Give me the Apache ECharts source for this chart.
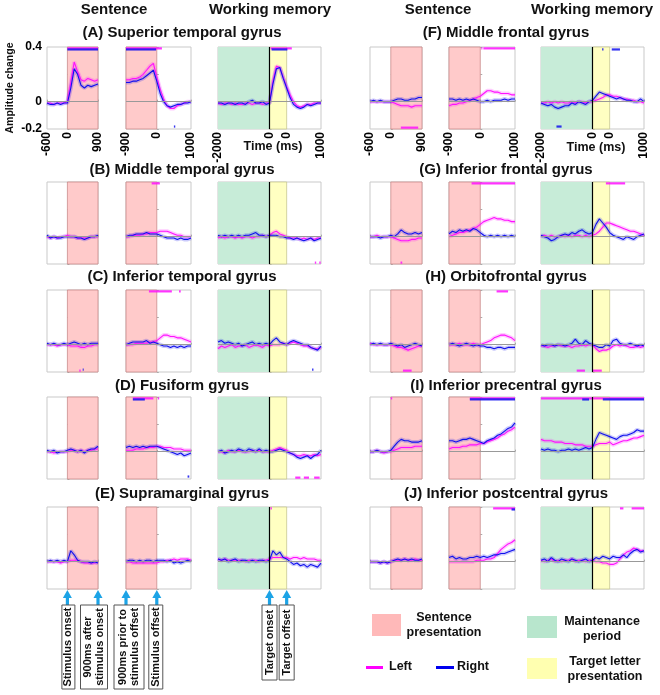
<!DOCTYPE html>
<html><head><meta charset="utf-8">
<script src="https://cdn.jsdelivr.net/npm/echarts@6/dist/echarts.min.js"></script>
<style>html,body{margin:0;padding:0;background:#fff}#c{width:660px;height:695px}</style>
</head><body><div id="c"></div>
<script>
// ---------- time bases (ms) ----------
const tOnset  = [-600,-500,-400,-300,-200,-100,0,100,200,300,400,500,600,700,800,900];
const tOffset = [-900,-800,-700,-600,-500,-400,-300,-200,-100,0,100,200,300,400,500,600,700,800,900,1000];
// working-memory display time: maintenance | target | post-offset
const tWM = [-1500,-1400,-1300,-1200,-1100,-1000,-900,-800,-700,-600,-500,-400,-300,-200,-100,0,100,200,300,400,500,600,700,800,900,1000,1100,1200,1300,1400,1500];

// ---------- tick labels ----------
const onsetTicks = [-600,0,900];       const onsetTickLabels = ['-600','0','900'];
const offsetTicks = [-900,0,1000];     const offsetTickLabels = ['-900','0','1000'];
const wmTicks = [-1500,0,500,1500];    const wmTickLabels = ['-2000','0','0','1000'];
const yTicks = [-0.2,0,0.4];           const yTickLabels = ['-0.2','0','0.4'];

const regionTitles = ['(A) Superior temporal gyrus','(B) Middle temporal gyrus','(C) Inferior temporal gyrus','(D) Fusiform gyrus','(E) Supramarginal gyrus',
  '(F) Middle frontal gyrus','(G) Inferior frontal gyrus','(H) Orbitofrontal gyrus','(I) Inferior precentral gyrus','(J) Inferior postcentral gyrus'];

// ---------- amplitude change (x 0.01) ----------
const A1L=[-1,-1,-2,-1,-1,-1,0,14,29,22,16,15,17,16,15,16];
const A1R=[-1,-2,-2,-1,-2,-1,-1,10,24,20,12,10,12,11,12,13];
const A2L=[16,16,17,17,18,20,23,26,28,18,9,2,-3,-5,-5,-3,-2,-1,0,0];
const A2R=[14,14,15,15,16,17,19,21,23,15,6,0,-3,-4,-3,-2,-2,-1,-1,0];
const A3L=[-1,-2,-1,-1,-2,-1,-2,-2,-1,-1,-2,-1,-1,-2,-1,-1,15,26,25,18,11,5,0,-3,-4,-3,-2,-2,-1,-1,-1];
const A3R=[-1,-1,-2,-1,-1,-2,-1,-1,-2,0,1,-1,-1,0,-2,-1,13,24,25,17,10,3,-2,-4,-5,-4,-2,-3,-2,-1,-1];

const B1L=[0,-1,0,-1,0,0,1,0,0,-1,-1,-1,-1,0,0,0];
const B1R=[1,-1,0,-1,-1,0,0,0,0,-1,-1,-2,-1,0,0,1];
const B2L=[0,0,1,1,1,2,2,3,3,3,4,4,4,3,2,1,1,0,0,0];
const B2R=[0,1,1,2,2,2,3,2,2,2,1,0,-1,-1,-1,-2,-1,-2,-2,-1];
const B3L=[-1,0,-1,0,0,-1,0,-1,0,0,-1,0,0,1,0,1,3,4,2,1,0,-1,-1,-1,-2,-1,-2,-1,-2,-1,-1];
const B3R=[1,0,1,0,1,0,1,0,1,1,2,3,1,1,0,1,1,1,0,0,-1,-1,-2,-1,-2,-3,-2,-1,-3,-2,-1];

const C1L=[0,0,0,-1,0,0,0,-1,-1,-1,-2,-2,-1,-1,0,0];
const C1R=[1,0,1,0,0,1,0,1,2,1,0,1,0,1,1,1];
const C2L=[0,0,0,1,1,1,1,2,2,3,5,7,7,6,6,5,5,4,3,2];
const C2R=[0,1,2,2,2,2,3,1,2,1,0,-1,-1,-2,-1,-2,-1,-2,-1,-1];
const C3L=[-3,-1,-2,-1,0,-2,-1,-1,0,-2,-1,0,-1,-2,0,-1,0,0,0,1,0,1,2,1,0,-1,-1,-2,-3,-3,-2];
const C3R=[2,3,1,2,1,0,1,-1,0,1,2,0,1,0,1,0,3,5,2,1,0,2,3,2,1,0,0,-2,-3,-4,-1];

const D1L=[0,0,-1,0,0,0,0,1,1,0,1,0,1,1,2,2];
const D1R=[1,0,1,-1,0,0,1,2,1,0,1,-1,1,2,2,4];
const D2L=[1,1,1,2,2,2,3,3,3,4,4,3,3,3,2,2,2,1,1,1];
const D2R=[3,4,3,4,3,4,3,4,4,4,3,2,1,0,-1,-2,-1,-3,-2,-1];
const D3L=[0,0,-1,1,0,0,1,0,0,0,1,0,1,0,0,0,1,2,3,2,1,-1,-2,-3,-3,-2,-3,-3,-2,-3,-2];
const D3R=[0,1,-1,0,1,0,2,1,0,2,1,0,2,0,1,0,0,1,2,1,0,-1,-2,-4,-5,-4,-3,-5,-3,-2,1];

const E1L=[0,0,0,0,-1,0,0,1,1,1,0,-1,-1,-1,-1,0];
const E1R=[0,1,0,1,0,1,0,8,5,1,0,0,0,-1,0,-1];
const E2L=[0,0,-1,-1,-1,-1,-1,-1,-1,-1,0,0,1,1,2,1,2,2,2,1];
const E2R=[0,1,1,0,1,0,1,1,0,1,1,1,0,1,-1,0,-1,0,1,0];
const E3L=[2,1,2,1,1,1,1,1,0,1,1,1,0,1,1,2,3,3,3,3,3,2,3,3,2,3,2,2,2,1,1];
const E3R=[2,1,2,0,1,2,0,1,1,0,1,0,1,1,0,1,8,5,7,3,2,0,-2,-1,-3,-2,-4,-2,-3,-4,-1];

const F1L=[0,0,0,0,0,0,0,-1,-2,-3,-3,-3,-4,-3,-3,-3];
const F1R=[0,1,0,1,0,0,0,1,2,2,1,1,2,2,3,3];
const F2L=[-3,-2,-2,-1,-1,0,1,2,3,4,6,8,8,7,7,6,6,6,5,5];
const F2R=[2,2,1,2,1,2,1,2,1,0,0,1,0,1,1,1,2,1,2,2];
const F3L=[-1,-1,0,-1,0,-1,0,-1,-1,0,-1,0,0,-1,0,0,1,2,3,5,5,4,4,3,2,2,1,1,0,0,-1];
const F3R=[-1,-2,-3,-2,-4,-5,-4,-3,-3,-1,-2,0,-1,-2,0,1,4,7,6,5,4,3,2,3,2,1,1,0,0,2,0];

const G1L=[0,0,1,0,0,0,0,-1,-2,-3,-3,-3,-2,-2,-1,-1];
const G1R=[0,0,0,-1,0,0,1,0,2,5,3,2,2,3,2,3];
const G2L=[0,1,2,3,3,4,5,6,7,9,11,12,13,14,13,13,12,12,11,11];
const G2R=[2,4,3,5,4,5,4,6,5,3,1,0,1,0,1,0,1,0,1,0];
const G3L=[0,1,0,1,0,0,1,0,1,0,1,1,0,1,0,1,2,4,7,10,10,9,8,7,6,5,4,4,3,2,1];
const G3R=[1,0,-1,-3,-2,0,1,2,1,3,2,4,5,3,2,3,9,13,10,7,3,1,0,-1,-2,0,-1,-2,0,1,2];

const H1L=[1,0,0,0,0,0,0,-1,-2,-2,-3,-4,-3,-2,-1,-1];
const H1R=[0,1,0,1,0,0,1,0,-1,0,-2,-1,0,1,0,-1];
const H2L=[0,0,0,1,0,0,0,1,0,0,1,2,3,5,6,7,7,6,5,3];
const H2R=[0,1,0,-1,0,1,0,-1,0,-1,-1,-2,-2,-3,-2,-2,-3,-2,-2,-2];
const H3L=[-1,-1,-2,-1,-1,0,-1,-1,-1,-2,-1,-1,0,-1,0,0,-3,-5,-4,-4,-3,-1,0,-1,0,-1,-2,-2,-1,-2,-1];
const H3R=[0,-1,0,0,-1,0,0,-1,0,1,4,1,0,3,1,0,-1,-2,-2,0,-1,3,4,1,0,0,1,0,-1,0,-1];

const I1L=[0,0,1,0,-1,0,0,1,2,3,3,3,3,4,4,4];
const I1R=[0,0,1,0,0,0,1,4,7,9,8,8,7,7,7,8];
const I2L=[2,3,3,3,4,4,5,5,5,6,6,7,8,9,10,12,13,15,16,18];
const I2R=[8,8,7,8,9,9,10,9,8,7,6,8,9,10,12,13,15,17,18,21];
const I3L=[9,8,8,8,7,7,7,6,6,6,5,5,5,4,4,4,5,6,6,6,7,5,6,7,8,8,9,10,10,11,12];
const I3R=[2,1,2,1,1,0,1,1,2,1,2,1,2,3,2,3,9,14,13,12,11,10,9,11,12,12,13,14,16,15,15];

const J1L=[0,0,0,-1,0,-1,0,1,1,1,2,1,1,2,1,1];
const J1R=[0,0,0,-1,0,-1,0,1,2,1,2,1,2,1,1,2];
const J2L=[0,0,0,0,0,0,0,0,1,1,1,2,2,3,6,9,11,13,14,16];
const J2R=[3,4,2,3,2,2,3,3,4,3,4,3,4,5,5,6,6,7,8,9];
const J3L=[1,0,1,2,0,1,0,1,1,2,0,1,1,0,1,1,0,0,-1,-1,-2,-2,-1,2,5,7,8,10,9,8,8];
const J3R=[1,2,0,3,1,0,2,1,0,2,1,0,1,2,0,1,3,2,4,3,2,4,3,3,5,3,6,8,9,7,8];

// ---------- significance intervals [hemisphere, start, end, edge] ----------
const sigA1=[['L',0,900,'t'],['R',0,900,'t']];
const sigA2=[['L',-900,150,'t'],['R',-900,-20,'t'],['R',500,540,'b']];
const sigA3=[['L',30,650,'t'],['R',60,520,'t']];
const sigB1=[]; const sigB2=[['L',-150,90,'t']]; const sigB3=[['L',1320,1360,'b'],['L',1450,1490,'b']];
const sigC1=[['L',350,390,'b'],['R',450,480,'b']]; const sigC2=[['L',-230,440,'t'],['L',650,700,'t']]; const sigC3=[['R',1240,1280,'b']];
const sigD1=[]; const sigD2=[['L',-700,-100,'t'],['R',-700,-350,'t'],['L',30,70,'t'],['R',900,950,'b']]; const sigD3=[['L',750,900,'b'],['L',1000,1150,'b'],['L',1300,1460,'b']];
const sigE1=[]; const sigE2=[]; const sigE3=[['L',30,70,'t']];
const sigF1=[['L',290,790,'b']]; const sigF2=[['L',30,60,'t'],['L',90,1000,'t']]; const sigF3=[['R',280,320,'t'],['R',560,800,'t'],['R',-1050,-900,'b']];
const sigG1=[['L',280,330,'b']]; const sigG2=[['L',-250,1000,'t']]; const sigG3=[['L',390,950,'t']];
const sigH1=[['L',350,600,'b']]; const sigH2=[['L',470,800,'t']]; const sigH3=[['L',-460,-220,'b'],['L',0,270,'b']];
const sigI1=[['L',0,40,'t']]; const sigI2=[['L',-300,1000,'t'],['R',-300,1000,'t']]; const sigI3=[['L',-1500,1500,'t'],['R',-300,-100,'t'],['R',300,1500,'t']];
const sigJ1=[]; const sigJ2=[['L',370,1000,'t'],['R',900,1000,'t']]; const sigJ3=[['L',800,900,'t'],['L',1140,1500,'t']];

// ---------- assemble ----------
const panelData = [
  [[A1L,A1R],[A2L,A2R],[A3L,A3R]],[[B1L,B1R],[B2L,B2R],[B3L,B3R]],[[C1L,C1R],[C2L,C2R],[C3L,C3R]],
  [[D1L,D1R],[D2L,D2R],[D3L,D3R]],[[E1L,E1R],[E2L,E2R],[E3L,E3R]],[[F1L,F1R],[F2L,F2R],[F3L,F3R]],
  [[G1L,G1R],[G2L,G2R],[G3L,G3R]],[[H1L,H1R],[H2L,H2R],[H3L,H3R]],[[I1L,I1R],[I2L,I2R],[I3L,I3R]],
  [[J1L,J1R],[J2L,J2R],[J3L,J3R]]];
const panelSig = [[sigA1,sigA2,sigA3],[sigB1,sigB2,sigB3],[sigC1,sigC2,sigC3],[sigD1,sigD2,sigD3],[sigE1,sigE2,sigE3],
  [sigF1,sigF2,sigF3],[sigG1,sigG2,sigG3],[sigH1,sigH2,sigH3],[sigI1,sigI2,sigI3],[sigJ1,sigJ2,sigJ3]];

const panelTimes = [tOnset,tOffset,tWM];
const panelRange = [[-600,900],[-900,1000],[-1500,1500]];
const panelTicks = [onsetTicks,offsetTicks,wmTicks];
const panelTickLabels = [onsetTickLabels,offsetTickLabels,wmTickLabels];

// layout (styling only)
const FONT = '"Liberation Sans", Arial, Helvetica, sans-serif';
const colX = [[[47,51],[126,65],[218,103]],[[370,52],[449,66],[541,103]]];
const rowTop = [47,182,290,397,507];
const PH = 82;
const COL = {L:'#ff10ff', R:'#1010ee'};
const PINK='#ffcaca', GREEN='#c7ecd8', YELLOW='#ffffc2';

const grid=[], xAxis=[], yAxis=[], series=[];
for (let h=0; h<2; h++) for (let r=0; r<5; r++) for (let p=0; p<3; p++) {
  const reg = h*5+r, g = grid.length;
  grid.push({left:colX[h][p][0], top:rowTop[r], width:colX[h][p][1], height:PH,
    show:true, borderColor:'#c9c9c9', borderWidth:1, backgroundColor:'rgba(0,0,0,0)'});
  const ticks = panelTicks[p], labs = panelTickLabels[p];
  xAxis.push({gridIndex:g, type:'value', min:panelRange[p][0], max:panelRange[p][1],
    axisLine:{show:false}, splitLine:{show:false},
    axisTick:{show:true, inside:true, length:2, lineStyle:{color:'#aaa'}, customValues:ticks},
    axisLabel: r===0 ? {show:true, customValues:ticks, rotate:90, margin:3, color:'#000',
       fontFamily:FONT, fontWeight:'bold', fontSize:12, showMinLabel:true, showMaxLabel:true,
       formatter:(v)=>{const i=ticks.indexOf(v); return i>=0?labs[i]:'';}} : {show:false}});
  yAxis.push({gridIndex:g, type:'value', min:-0.2, max:0.4,
    axisLine:{show:false}, splitLine:{show:false},
    axisTick:{show:true, inside:true, length:2, lineStyle:{color:'#aaa'}, customValues:[-0.2,0,0.2,0.4]},
    axisLabel:(reg===0 && p===0) ? {show:true, customValues:yTicks, margin:5, color:'#000', fontFamily:FONT,
       fontWeight:'bold', fontSize:12, formatter:(v)=>{const i=yTicks.findIndex(t=>Math.abs(t-v)<1e-9); return i>=0?yTickLabels[i]:'';}} : {show:false}});
  // background shading and reference lines
  const areas = p===0 ? [[{xAxis:0, itemStyle:{color:PINK, borderColor:'#c98c8c', borderWidth:0.8}},{xAxis:900}]]
              : p===1 ? [[{xAxis:-900, itemStyle:{color:PINK, borderColor:'#c98c8c', borderWidth:0.8}},{xAxis:0}]]
              : [[{xAxis:-1500, itemStyle:{color:GREEN}},{xAxis:0}],[{xAxis:0, itemStyle:{color:YELLOW, borderColor:'#c8c890', borderWidth:0.8}},{xAxis:500}]];
  const lines = [{yAxis:0, lineStyle:{color:'#999', width:1, type:'solid'}}];
  if (p===2) lines.push({xAxis:0, lineStyle:{color:'#000', width:1.2, type:'solid'}});
  series.push({type:'line', xAxisIndex:g, yAxisIndex:g, data:[], silent:true, z:1,
    markArea:{silent:true, data:areas, label:{show:false}},
    markLine:{silent:true, symbol:'none', label:{show:false}, animation:false, data:lines}});
  const times = panelTimes[p];
  ['L','R'].forEach((side,k)=>{
    const d = times.map((t,i)=>[t, panelData[reg][p][k][i]/100]);
    series.push({type:'line', xAxisIndex:g, yAxisIndex:g, data:d, showSymbol:false, silent:true, z:2,
      lineStyle:{color:COL[side], width:4, opacity:0.22}});
  });
  ['L','R'].forEach((side,k)=>{
    const d = times.map((t,i)=>[t, panelData[reg][p][k][i]/100]);
    series.push({type:'line', xAxisIndex:g, yAxisIndex:g, data:d, showSymbol:false, silent:true, z:3,
      lineStyle:{color:COL[side], width:1.1}});
  });
  panelSig[reg][p].forEach(s=>{
    const y = s[3]==='t' ? (s[0]==='L'?0.39:0.382) : (s[0]==='L'?-0.19:-0.182);
    series.push({type:'line', xAxisIndex:g, yAxisIndex:g, data:[[s[1],y],[s[2],y]], showSymbol:false, silent:true, z:4,
      lineStyle:{color:COL[s[0]], width:2.2, opacity:0.85}});
  });
}

const chart = echarts.init(document.getElementById('c'), null, {width:660, height:695});
chart.setOption({animation:false, backgroundColor:'#fff', grid, xAxis, yAxis, series});

// ---------- text and annotation graphics ----------
const G=[];
const txt=(x,y,text,size,opt={})=>G.push(Object.assign({type:'text', x, y, silent:true,
  style:Object.assign({text, fill:'#111', font:`bold ${size}px ${FONT}`, align:'center', verticalAlign:'middle'}, opt.style||{})}, opt.el||{}));
txt(114,10,'Sentence',15); txt(270,10,'Working memory',15);
txt(438,10,'Sentence',15); txt(592,10,'Working memory',15);
const titleY=[33,170,277,386,494];
for (let r=0;r<5;r++){ txt(182,titleY[r],regionTitles[r],15); txt(506,titleY[r],regionTitles[5+r],15); }
txt(10,88,'Amplitude change',10.5,{el:{rotation:Math.PI/2}});
txt(273,147,'Time (ms)',12.5); txt(596,148,'Time (ms)',12.5);

// arrows + boxes anchored to the bottom-row (E) axes
const arrowDefs=[ // [gridIndex, xValue, label, boxDx, boxW, boxH]
  [12,0,'Stimulus onset',1,13,84],
  [12,900,'900ms after\nstimulus onset',-4,27,84],
  [13,-900,'900ms prior to\nstimulus offset',3,30,84],
  [13,0,'Stimulus offset',-1,14,84],
  [14,0,'Target onset',0,15,75],
  [14,500,'Target offset',0,15,75]];
const CYAN='#1ca3e6';
arrowDefs.forEach(a=>{
  const px = chart.convertToPixel({gridIndex:a[0]}, [a[1],0])[0];
  G.push({type:'polygon', silent:true, shape:{points:[[px-4.5,598],[px+4.5,598],[px,590]]}, style:{fill:CYAN}});
  G.push({type:'rect', silent:true, shape:{x:px-1.6, y:597, width:3.2, height:8}, style:{fill:CYAN}});
  const cx = px + a[3];
  G.push({type:'rect', silent:true, shape:{x:cx-a[4]/2, y:605, width:a[4], height:a[5]}, style:{fill:'#fff', stroke:'#555', lineWidth:1}});
  G.push({type:'text', silent:true, x:cx, y:605+a[5]/2, rotation:Math.PI/2,
    style:{text:a[2], fill:'#111', font:`bold 11px ${FONT}`, align:'center', verticalAlign:'middle', lineHeight:12.5}});
});

// legend
G.push({type:'rect', silent:true, shape:{x:372,y:614,width:29,height:22}, style:{fill:'#ffb9b9'}});
txt(444,625,'Sentence\npresentation',12.5,{style:{lineHeight:15}});
G.push({type:'rect', silent:true, shape:{x:527,y:616,width:30,height:22}, style:{fill:'#b8e6cd'}});
txt(602,629,'Maintenance\nperiod',12.5,{style:{lineHeight:15}});
G.push({type:'rect', silent:true, shape:{x:527,y:658,width:30,height:21}, style:{fill:'#ffffb0'}});
txt(605,669,'Target letter\npresentation',12.5,{style:{lineHeight:15}});
G.push({type:'line', silent:true, shape:{x1:366,y1:667.5,x2:383,y2:667.5}, style:{stroke:'#ff00ff', lineWidth:3}});
txt(389,667,'Left',12.5,{style:{align:'left'}});
G.push({type:'line', silent:true, shape:{x1:436,y1:667.5,x2:454,y2:667.5}, style:{stroke:'#0000ee', lineWidth:3}});
txt(457,667,'Right',12.5,{style:{align:'left'}});

chart.setOption({graphic:G});
</script></body></html>
